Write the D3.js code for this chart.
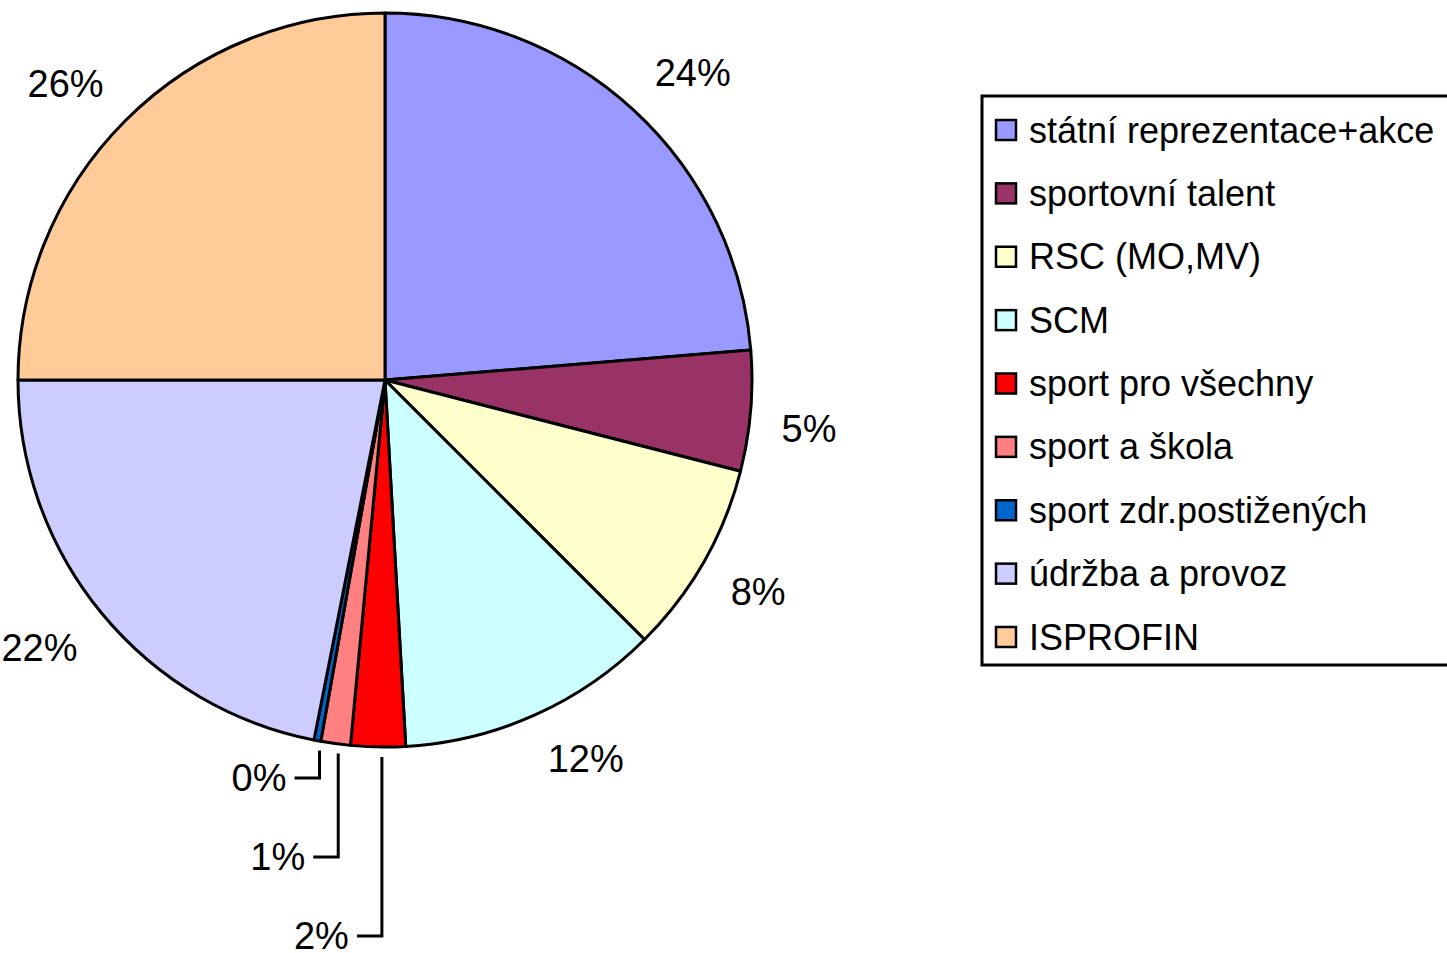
<!DOCTYPE html>
<meta charset="utf-8" />
<style>
  body { margin: 0; background: #fff; }
  svg { display: block; }
</style>
<body>
  <div id="graf"></div>
  <script src="https://cdn.jsdelivr.net/npm/d3@7"></script>
  <script>
    // data
    var kategorie = [
      "státní reprezentace+akce",
      "sportovní talent",
      "RSC (MO,MV)",
      "SCM",
      "sport pro všechny",
      "sport a škola",
      "sport zdr.postižených",
      "údržba a provoz",
      "ISPROFIN",
    ];
    var hodnoty = [23.7, 5.3, 8.5, 11.6, 2.4, 1.3, 0.3, 21.9, 25.0];
    var popisky = ["24%", "5%", "8%", "12%", "2%", "1%", "0%", "22%", "26%"];
    var barvy = [
      "#9999FF", "#993366", "#FFFFCC", "#CCFFFF", "#FF0000",
      "#FF8080", "#0066CC", "#CCCCFF", "#FFCC99",
    ];

    var sirka = 1447;
    var vyska = 953;
    var cx = 385, cy = 380, r = 367;
    var pismo = "'Liberation Sans', Arial, sans-serif";

    var svg = d3
      .select("#graf")
      .append("svg")
      .attr("width", sirka)
      .attr("height", vyska);

    var barva = d3.scaleOrdinal().domain(kategorie).range(barvy);

    var pie = d3.pie().sort(null).value(function (d) { return d.hodnota; });
    var data = kategorie.map(function (k, i) {
      return { nazev: k, hodnota: hodnoty[i], popisek: popisky[i] };
    });
    var oblouky = pie(data);

    var arc = d3.arc().innerRadius(0).outerRadius(r);

    var g = svg.append("g").attr("transform", "translate(" + cx + "," + cy + ")");

    g.selectAll("path")
      .data(oblouky)
      .enter()
      .append("path")
      .attr("d", arc)
      .attr("fill", function (d) { return barva(d.data.nazev); })
      .attr("stroke", "#000")
      .attr("stroke-width", 3)
      .attr("stroke-linejoin", "round");

    var velke = oblouky.filter(function (d) { return d.data.hodnota >= 3; });
    var male = oblouky.filter(function (d) { return d.data.hodnota < 3; }).reverse();

    // popisky velkych vyseci - roh textu lezi na paprsku stredu vysece
    var mezera = 31, vyskaTextu = 30;
    g.selectAll("text.velky")
      .data(velke)
      .enter()
      .append("text")
      .attr("class", "velky")
      .attr("text-anchor", "middle")
      .attr("dy", "0.35em")
      .attr("font-family", pismo)
      .attr("font-size", "38px")
      .text(function (d) { return d.data.popisek; })
      .each(function (d) {
        var a = (d.startAngle + d.endAngle) / 2;
        var w = this.getComputedTextLength();
        var sx = Math.sin(a), sy = -Math.cos(a);
        var x = (r + mezera) * sx + (sx >= 0 ? 1 : -1) * w / 2;
        var y = (r + mezera) * sy + (sy >= 0 ? 1 : -1) * vyskaTextu / 2;
        d3.select(this).attr("x", x).attr("y", y);
      });

    // male vysece s vodicimi carami
    male.forEach(function (d, i) {
      var a = (d.startAngle + d.endAngle) / 2;
      var x0 = (r + 10) * Math.sin(a) + 4;
      var y0 = -(r + 10) * Math.cos(a);
      var yl = r + 31 + i * 79;
      g.append("polyline")
        .attr("points", [[x0, y0], [x0, yl], [x0 - 25, yl]].join(" "))
        .attr("fill", "none")
        .attr("stroke", "#000")
        .attr("stroke-width", 3);
      g.append("text")
        .attr("x", x0 - 33)
        .attr("y", yl)
        .attr("dy", "0.35em")
        .attr("text-anchor", "end")
        .attr("font-family", pismo)
        .attr("font-size", "38px")
        .text(d.data.popisek);
    });

    // legenda
    var leg = svg.append("g");
    leg.append("rect")
      .attr("x", 982)
      .attr("y", 96)
      .attr("width", 490)
      .attr("height", 569)
      .attr("fill", "#fff")
      .attr("stroke", "#000")
      .attr("stroke-width", 3);

    var radky = d3.scalePoint()
      .domain(kategorie)
      .range([130, 637]);

    var polozky = leg.selectAll("g.polozka")
      .data(kategorie)
      .enter()
      .append("g")
      .attr("class", "polozka")
      .attr("transform", function (d) { return "translate(0," + radky(d) + ")"; });

    polozky.append("rect")
      .attr("x", 996)
      .attr("y", -10)
      .attr("width", 20)
      .attr("height", 20)
      .attr("fill", function (d) { return barva(d); })
      .attr("stroke", "#000")
      .attr("stroke-width", 2.5);

    polozky.append("text")
      .attr("x", 1029)
      .attr("y", 0)
      .attr("dy", "0.35em")
      .attr("font-family", pismo)
      .attr("font-size", "36px")
      .text(function (d) { return d; });
  </script>
</body>
